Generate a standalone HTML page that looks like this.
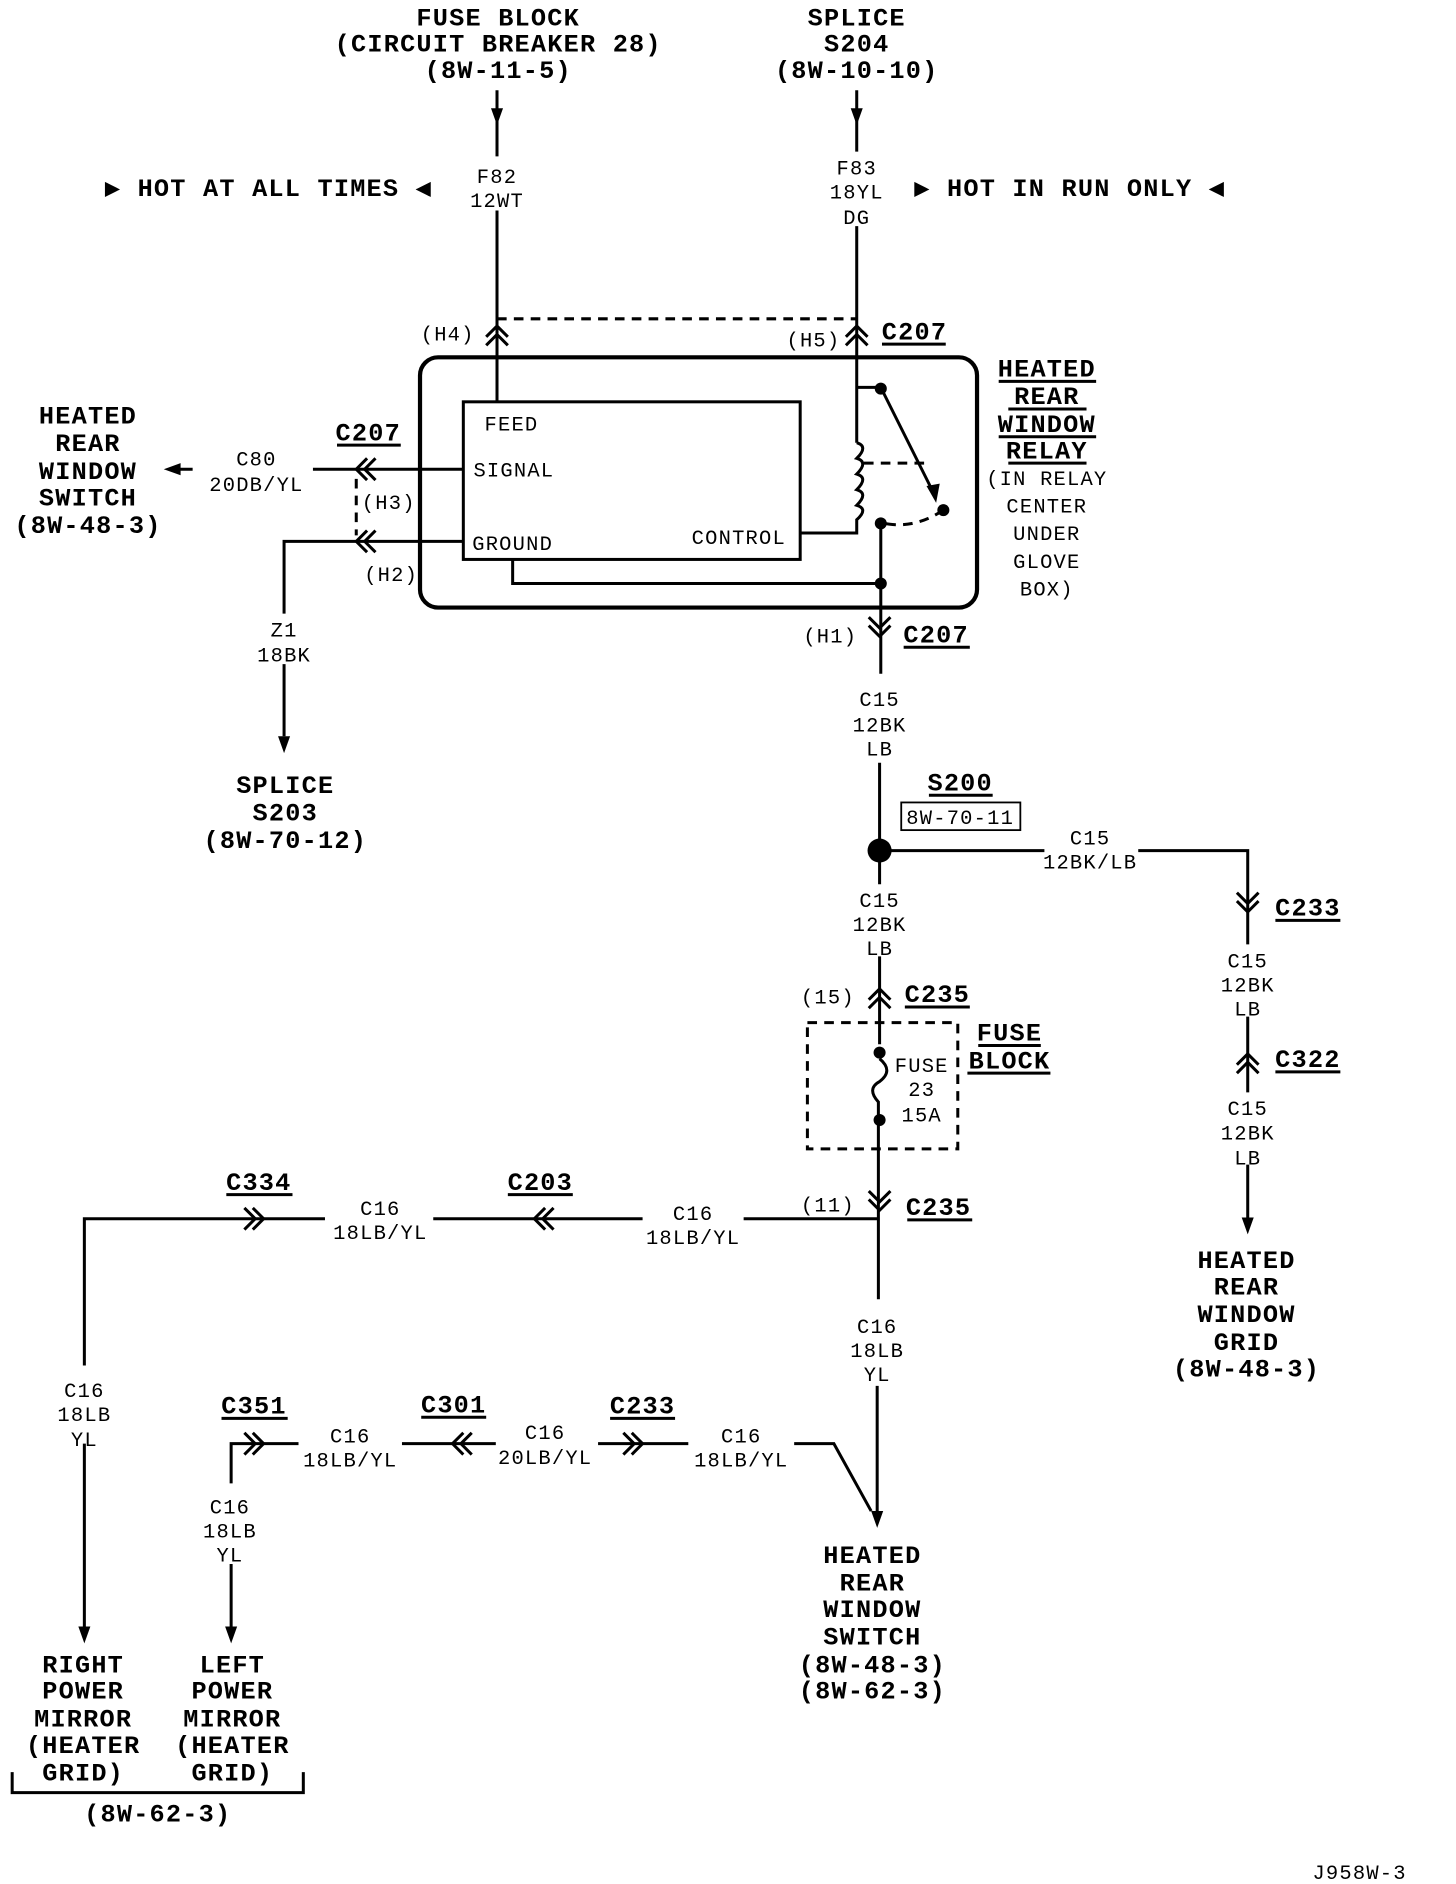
<!DOCTYPE html>
<html><head><meta charset="utf-8"><style>
html,body{margin:0;padding:0;background:#fff}
svg{display:block}
.h{font-family:"Liberation Mono",monospace;font-weight:bold;font-size:21px;letter-spacing:1px;text-anchor:middle;fill:#000}
.t{font-family:"Liberation Mono",monospace;font-size:17px;letter-spacing:1px;text-anchor:middle;fill:#000}
.l{stroke:#000;stroke-width:2.5;fill:none}
.d{stroke:#000;stroke-width:2.5;fill:none;stroke-dasharray:8 6}
</style></head><body>
<svg width="1456" height="1884" viewBox="0 0 1210 1566" xmlns="http://www.w3.org/2000/svg">
<defs>
<path id="cu" d="M-9,5 L0,-4 L9,5 M-9,12 L0,3 L9,12" stroke="#000" stroke-width="2.5" fill="none"/>
<path id="cd" d="M-9,-5 L0,4 L9,-5 M-9,-12 L0,-3 L9,-12" stroke="#000" stroke-width="2.5" fill="none"/>
<path id="cl" d="M5,-9 L-4,0 L5,9 M12,-9 L3,0 L12,9" stroke="#000" stroke-width="2.5" fill="none"/>
<path id="cr" d="M-5,-9 L4,0 L-5,9 M-12,-9 L-3,0 L-12,9" stroke="#000" stroke-width="2.5" fill="none"/>
<path id="ad" d="M-5,-14 L0,0 L5,-14 Z" fill="#000"/>
<path id="al" d="M14,-5 L0,0 L14,5 Z" fill="#000"/>
</defs>

<!-- top headings -->
<text class="h" x="414" y="21">FUSE BLOCK</text>
<text class="h" x="414" y="43">(CIRCUIT BREAKER 28)</text>
<text class="h" x="414" y="65">(8W-11-5)</text>
<text class="h" x="712" y="21">SPLICE</text>
<text class="h" x="712" y="43">S204</text>
<text class="h" x="712" y="65">(8W-10-10)</text>
<text class="h" x="223" y="163">▶ HOT AT ALL TIMES ◀</text>
<text class="h" x="889" y="163">▶ HOT IN RUN ONLY ◀</text>

<!-- feed wires -->
<path class="l" d="M413,75 V130 M413,175 V334"/>
<use href="#ad" x="413" y="104"/>
<text class="t" x="413" y="152">F82</text>
<text class="t" x="413" y="172">12WT</text>
<path class="l" d="M712,75 V126 M712,188 V322 H732 M712,322 V368"/>
<use href="#ad" x="712" y="104"/>
<text class="t" x="712" y="145">F83</text>
<text class="t" x="712" y="165">18YL</text>
<text class="t" x="712" y="186">DG</text>
<path class="d" d="M413,265 H712"/>
<use href="#cu" x="413" y="275"/>
<use href="#cu" x="712" y="275"/>
<text class="t" x="372" y="283">(H4)</text>
<text class="t" x="676" y="288">(H5)</text>
<text class="h" x="760" y="282">C207</text>
<path class="l" d="M733,286 H786"/>

<!-- relay -->
<rect x="349" y="297" width="463" height="208" rx="15" fill="none" stroke="#000" stroke-width="3.5"/>
<rect x="385" y="334" width="280" height="131" fill="none" stroke="#000" stroke-width="2.5"/>
<text class="t" x="425" y="358">FEED</text>
<text class="t" x="427" y="396">SIGNAL</text>
<text class="t" x="426" y="457">GROUND</text>
<text class="t" x="614" y="452">CONTROL</text>
<path class="l" d="M712,368 q10,3 0,13 q10,3 0,13 q10,3 0,13 q10,3 0,13 q10,3 0,12 V443 H665"/>
<path class="l" d="M732,322 L776,410"/>
<path d="M770,404 L778,418 L781,402 Z" fill="#000"/>
<path class="d" d="M718,385 H772"/>
<path class="d" d="M784,424 Q760,440 735,435"/>
<circle cx="732" cy="323" r="5"/><circle cx="784" cy="424" r="5"/><circle cx="732" cy="435" r="5"/><circle cx="732" cy="485" r="5"/>
<path class="l" d="M426,465 V485 H732 M732,435 V560"/>
<text class="h" x="870" y="313">HEATED</text>
<text class="h" x="870" y="336">REAR</text>
<text class="h" x="870" y="359">WINDOW</text>
<text class="h" x="870" y="381">RELAY</text>
<path class="l" d="M830,317 H911 M838,340 H903 M830,363 H911 M838,385 H903" stroke-width="2"/>
<text class="t" x="870" y="403">(IN RELAY</text>
<text class="t" x="870" y="426">CENTER</text>
<text class="t" x="870" y="449">UNDER</text>
<text class="t" x="870" y="472">GLOVE</text>
<text class="t" x="870" y="495">BOX)</text>

<!-- left of relay -->
<path class="l" d="M385,390 H260 M160,390 H140"/>
<use href="#al" x="136" y="390"/>
<use href="#cl" x="300" y="390"/>
<text class="t" x="213" y="387">C80</text>
<text class="t" x="213" y="408">20DB/YL</text>
<text class="h" x="306" y="366">C207</text>
<path class="l" d="M280,370 H333"/>
<path class="d" d="M296,398 V445"/>
<text class="t" x="323" y="423">(H3)</text>
<use href="#cl" x="300" y="450"/>
<text class="t" x="325" y="483">(H2)</text>
<path class="l" d="M385,450 H236 V510 M236,552 V612"/>
<use href="#ad" x="236" y="626"/>
<text class="t" x="236" y="529">Z1</text>
<text class="t" x="236" y="550">18BK</text>
<text class="h" x="237" y="659">SPLICE</text>
<text class="h" x="237" y="682">S203</text>
<text class="h" x="237" y="705">(8W-70-12)</text>
<text class="h" x="73" y="352">HEATED</text>
<text class="h" x="73" y="375">REAR</text>
<text class="h" x="73" y="398">WINDOW</text>
<text class="h" x="73" y="420">SWITCH</text>
<text class="h" x="73" y="443">(8W-48-3)</text>

<!-- main vertical -->
<use href="#cd" x="731" y="525"/>
<text class="t" x="690" y="534">(H1)</text>
<text class="h" x="778" y="534">C207</text>
<path class="l" d="M751,538 H806"/>
<text class="t" x="731" y="587">C15</text>
<text class="t" x="731" y="608">12BK</text>
<text class="t" x="731" y="628">LB</text>
<path class="l" d="M731,634 V735 M731,795 V868"/>
<circle cx="731" cy="707" r="10"/>
<text class="h" x="798" y="657">S200</text>
<path class="l" d="M772,661 H825"/>
<rect x="749" y="667" width="99" height="23" fill="none" stroke="#000" stroke-width="1.5"/>
<text class="t" x="798" y="685">8W-70-11</text>
<path class="l" d="M731,707 H868 M946,707 H1037 V785 M1037,845 V908 M1037,968 V1012"/>
<use href="#ad" x="1037" y="1026"/>
<text class="t" x="906" y="702">C15</text>
<text class="t" x="906" y="722">12BK/LB</text>
<use href="#cd" x="1037" y="754"/>
<text class="h" x="1087" y="761">C233</text>
<path class="l" d="M1060,765 H1114"/>
<text class="t" x="1037" y="804">C15</text>
<text class="t" x="1037" y="824">12BK</text>
<text class="t" x="1037" y="844">LB</text>
<use href="#cu" x="1037" y="880"/>
<text class="h" x="1087" y="887">C322</text>
<path class="l" d="M1060,891 H1114"/>
<text class="t" x="1037" y="927">C15</text>
<text class="t" x="1037" y="947">12BK</text>
<text class="t" x="1037" y="968">LB</text>
<text class="h" x="1036" y="1054">HEATED</text>
<text class="h" x="1036" y="1076">REAR</text>
<text class="h" x="1036" y="1099">WINDOW</text>
<text class="h" x="1036" y="1122">GRID</text>
<text class="h" x="1036" y="1144">(8W-48-3)</text>

<text class="t" x="731" y="754">C15</text>
<text class="t" x="731" y="774">12BK</text>
<text class="t" x="731" y="794">LB</text>
<use href="#cu" x="731" y="826"/>
<text class="t" x="688" y="834">(15)</text>
<text class="h" x="779" y="833">C235</text>
<path class="l" d="M752,837 H806"/>
<rect x="671" y="850" width="125" height="105" class="d" stroke-width="2.2"/>
<circle cx="731" cy="875" r="5"/><circle cx="731" cy="931" r="5"/>
<path class="l" d="M731,880 q12,10 0,19 q-11,6 -1,17 V1080"/>
<text class="t" x="766" y="891">FUSE</text>
<text class="t" x="766" y="911">23</text>
<text class="t" x="766" y="932">15A</text>
<text class="h" x="839" y="865">FUSE</text>
<text class="h" x="839" y="888">BLOCK</text>
<path class="l" d="M813,869 H865 M804,892 H873"/>
<use href="#cd" x="731" y="1002"/>
<text class="t" x="688" y="1007">(11)</text>
<text class="h" x="780" y="1010">C235</text>
<path class="l" d="M754,1014 H808"/>

<!-- left branch -->
<path class="l" d="M731,1013 H618 M534,1013 H360 M270,1013 H70 V1135 M70,1200 V1352"/>
<use href="#ad" x="70" y="1366"/>
<use href="#cr" x="215" y="1013"/>
<text class="h" x="215" y="989">C334</text>
<path class="l" d="M188,993 H243"/>
<text class="t" x="316" y="1010">C16</text>
<text class="t" x="316" y="1030">18LB/YL</text>
<use href="#cl" x="448" y="1013"/>
<text class="h" x="449" y="989">C203</text>
<path class="l" d="M422,993 H476"/>
<text class="t" x="576" y="1014">C16</text>
<text class="t" x="576" y="1034">18LB/YL</text>
<text class="t" x="70" y="1161">C16</text>
<text class="t" x="70" y="1181">18LB</text>
<text class="t" x="70" y="1202">YL</text>

<text class="t" x="729" y="1108">C16</text>
<text class="t" x="729" y="1128">18LB</text>
<text class="t" x="729" y="1148">YL</text>
<path class="l" d="M729,1152 V1256"/>
<use href="#ad" x="729" y="1270"/>
<path class="l" d="M660,1200 H693 L724,1256"/>

<path class="l" d="M192,1233 V1200 H248 M334,1200 H412 M497,1200 H572"/>
<path class="l" d="M192,1300 V1352"/>
<use href="#ad" x="192" y="1366"/>
<use href="#cr" x="215" y="1200"/>
<text class="h" x="211" y="1175">C351</text>
<path class="l" d="M184,1179 H239"/>
<text class="t" x="291" y="1199">C16</text>
<text class="t" x="291" y="1219">18LB/YL</text>
<use href="#cl" x="380" y="1200"/>
<text class="h" x="377" y="1174">C301</text>
<path class="l" d="M350,1178 H404"/>
<text class="t" x="453" y="1196">C16</text>
<text class="t" x="453" y="1217">20LB/YL</text>
<use href="#cr" x="530" y="1200"/>
<text class="h" x="534" y="1175">C233</text>
<path class="l" d="M507,1179 H561"/>
<text class="t" x="616" y="1199">C16</text>
<text class="t" x="616" y="1219">18LB/YL</text>
<text class="t" x="191" y="1258">C16</text>
<text class="t" x="191" y="1278">18LB</text>
<text class="t" x="191" y="1298">YL</text>

<text class="h" x="725" y="1299">HEATED</text>
<text class="h" x="725" y="1322">REAR</text>
<text class="h" x="725" y="1344">WINDOW</text>
<text class="h" x="725" y="1367">SWITCH</text>
<text class="h" x="725" y="1390">(8W-48-3)</text>
<text class="h" x="725" y="1412">(8W-62-3)</text>

<text class="h" x="69" y="1390">RIGHT</text>
<text class="h" x="69" y="1412">POWER</text>
<text class="h" x="69" y="1435">MIRROR</text>
<text class="h" x="69" y="1457">(HEATER</text>
<text class="h" x="69" y="1480">GRID)</text>
<text class="h" x="193" y="1390">LEFT</text>
<text class="h" x="193" y="1412">POWER</text>
<text class="h" x="193" y="1435">MIRROR</text>
<text class="h" x="193" y="1457">(HEATER</text>
<text class="h" x="193" y="1480">GRID)</text>
<path class="l" d="M10,1473 V1490 H252 V1473"/>
<text class="h" x="131" y="1514">(8W-62-3)</text>
<text class="t" x="1130" y="1562">J958W-3</text>
</svg>
</body></html>
